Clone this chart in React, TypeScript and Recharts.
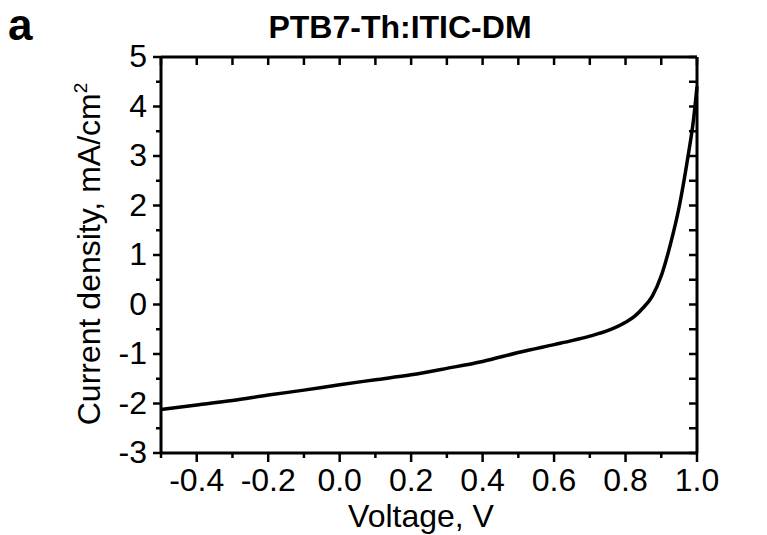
import React from 'react';
import { LineChart, Line, XAxis, YAxis, Label } from 'recharts';

// J-V curve
const voltage = [
  -0.5, -0.4, -0.3, -0.2, -0.1, 0.0, 0.1, 0.2, 0.3, 0.4, 0.5, 0.6, 0.65, 0.7, 0.75, 0.8,
  0.825, 0.85, 0.875, 0.9, 0.925, 0.95, 0.975, 0.99, 1.0,
];
const currentDensity = [
  -2.12, -2.03, -1.94, -1.83, -1.73, -1.62, -1.52, -1.42, -1.29, -1.15, -0.97, -0.81, -0.73, -0.64,
  -0.53, -0.36, -0.24, -0.06, 0.17, 0.58, 1.2, 1.97, 3.0, 3.72, 4.4,
];

const xTicks = [-0.5, -0.4, -0.3, -0.2, -0.1, 0.0, 0.1, 0.2, 0.3, 0.4, 0.5, 0.6, 0.7, 0.8, 0.9, 1.0];
const yTicks = [-3, -2.5, -2, -1.5, -1, -0.5, 0, 0.5, 1, 1.5, 2, 2.5, 3, 3.5, 4, 4.5, 5];

const title = 'PTB7-Th:ITIC-DM';
const panel = 'a';

const data = voltage.map((v, i) => ({ v, j: currentDensity[i] }));

const FONT = 'Liberation Sans, Arial, sans-serif';
const isMajorX = (v: number) => Math.round(v * 10) % 2 === 0;
const isMajorY = (v: number) => Number.isInteger(v);

const BottomTick = (props: any) => {
  const { x, y, payload } = props;
  const v = payload.value;
  const major = isMajorX(v);
  return (
    <g>
      <line x1={x} x2={x} y1={y} y2={y + (major ? 9 : 5)} stroke="#000" strokeWidth={2.5} />
      {major && (
        <text x={x} y={y + 38} textAnchor="middle" fontSize={32} fontFamily={FONT} fill="#000">
          {v.toFixed(1)}
        </text>
      )}
    </g>
  );
};

const TopTick = (props: any) => {
  const { x, y } = props;
  return <line x1={x} x2={x} y1={y} y2={y + 8} stroke="#000" strokeWidth={2.5} />;
};

const LeftTick = (props: any) => {
  const { x, y, payload } = props;
  const v = payload.value;
  const major = isMajorY(v);
  return (
    <g>
      <line x1={x} x2={x - (major ? 8 : 5)} y1={y} y2={y} stroke="#000" strokeWidth={2.5} />
      {major && (
        <text x={x - 14} y={y + 10} textAnchor="end" fontSize={32} fontFamily={FONT} fill="#000">
          {String(v)}
        </text>
      )}
    </g>
  );
};

const RightTick = (props: any) => {
  const { x, y } = props;
  return <line x1={x} x2={x - 8} y1={y} y2={y} stroke="#000" strokeWidth={2.5} />;
};

const XTitle = (props: any) => {
  const vb = props.viewBox;
  return (
    <text x={vb.x + vb.width / 2 - 8} y={vb.y + 74} textAnchor="middle" fontSize={32} fontFamily={FONT} fill="#000">
      Voltage, V
    </text>
  );
};

const YTitle = (props: any) => {
  const vb = props.viewBox;
  const cx = vb.x + vb.width - 61;
  const cy = vb.y + vb.height / 2 - 1;
  return (
    <text
      x={cx}
      y={cy}
      transform={`rotate(-90, ${cx}, ${cy})`}
      textAnchor="middle"
      fontSize={32}
      fontFamily={FONT}
      fill="#000"
    >
      Current density, mA/cm
      <tspan dy={-13} fontSize={19}>2</tspan>
    </text>
  );
};

const PlotTitle = (props: any) => {
  const vb = props.viewBox;
  return (
    <text x={vb.x + vb.width / 2 - 29} y={vb.y + vb.height - 19} textAnchor="middle" fontSize={32} fontWeight="bold" fontFamily={FONT} fill="#000">
      {title}
    </text>
  );
};

export default function App() {
  const axisLine = { stroke: '#000', strokeWidth: 3 };
  return (
    <div style={{ position: 'relative', width: 767, height: 535, background: '#fff', fontFamily: FONT }}>
      <style>{`body{margin:0}`}</style>
      <span
        style={{ position: 'absolute', left: 8, top: 3, fontSize: 44, lineHeight: '44px', fontWeight: 'bold' }}
      >
        {panel}
      </span>
      <LineChart width={767} height={535} data={data} margin={{ top: 56, right: 69, bottom: 0, left: 0 }}>
        <XAxis
          dataKey="v"
          type="number"
          domain={[-0.5, 1.0]}
          ticks={xTicks}
          interval={0}
          height={82}
          tickSize={0}
          tickMargin={0}
          tickLine={false}
          axisLine={axisLine}
          tick={<BottomTick />}
        >
          <Label content={<XTitle />} />
        </XAxis>
        <XAxis
          xAxisId="top"
          dataKey="v"
          orientation="top"
          type="number"
          domain={[-0.5, 1.0]}
          ticks={xTicks}
          interval={0}
          height={1}
          tickSize={0}
          tickMargin={0}
          tickLine={false}
          axisLine={axisLine}
          tick={<TopTick />}
        >
          <Label content={<PlotTitle />} />
        </XAxis>
        <YAxis
          type="number"
          domain={[-3, 5]}
          ticks={yTicks}
          interval={0}
          width={161}
          tickSize={0}
          tickMargin={0}
          tickLine={false}
          axisLine={axisLine}
          tick={<LeftTick />}
        >
          <Label content={<YTitle />} />
        </YAxis>
        <YAxis
          yAxisId="right"
          orientation="right"
          type="number"
          domain={[-3, 5]}
          ticks={yTicks}
          interval={0}
          width={1}
          tickSize={0}
          tickMargin={0}
          tickLine={false}
          axisLine={axisLine}
          tick={<RightTick />}
        />
        {/* invisible twin so the mirror axes have a series bound to them */}
        <Line
          xAxisId="top"
          yAxisId="right"
          type="monotone"
          dataKey="j"
          stroke="none"
          dot={false}
          activeDot={false}
          isAnimationActive={false}
        />
        <Line
          type="monotone"
          dataKey="j"
          stroke="#000"
          strokeWidth={3.5}
          dot={false}
          isAnimationActive={false}
        />
      </LineChart>
    </div>
  );
}
